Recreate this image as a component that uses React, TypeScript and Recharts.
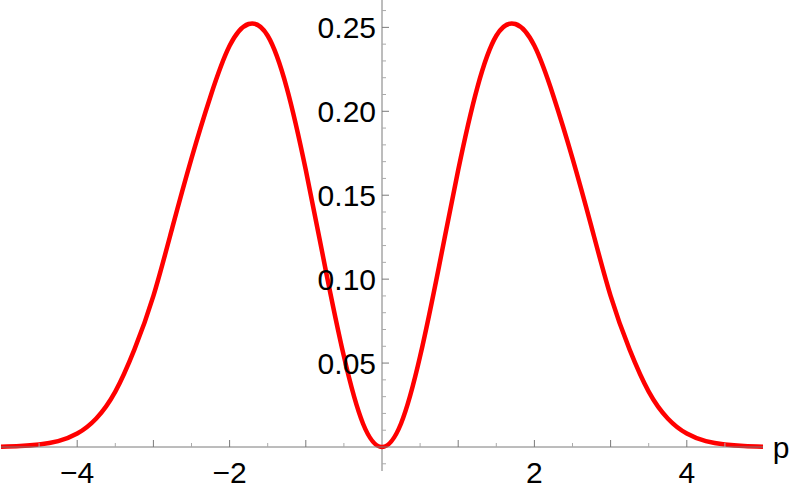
import React from "react";
import { LineChart, Line, XAxis, YAxis, ReferenceLine } from "recharts";

// momentum values p
const pValues = [
  -5, -4.75, -4.5, -4.25, -4, -3.75, -3.5, -3.25, -3, -2.75, -2.5, -2.25, -2,
  -1.75, -1.5, -1.25, -1, -0.75, -0.5, -0.25, 0, 0.25, 0.5, 0.75, 1, 1.25, 1.5,
  1.75, 2, 2.25, 2.5, 2.75, 3, 3.25, 3.5, 3.75, 4, 4.25, 4.5, 4.75, 5,
];

// curve height
const density = [
  0.0002, 0.0006, 0.0015, 0.0035, 0.008, 0.017, 0.033, 0.058, 0.09, 0.131,
  0.172, 0.209, 0.239, 0.252, 0.245, 0.214, 0.165, 0.108, 0.054, 0.014, 0,
  0.014, 0.054, 0.108, 0.165, 0.214, 0.245, 0.252, 0.239, 0.209, 0.172, 0.131,
  0.09, 0.058, 0.033, 0.017, 0.008, 0.0035, 0.0015, 0.0006, 0.0002,
];

const xTicks = [-4.5, -4, -3.5, -3, -2.5, -2, -1.5, -1, -0.5, 0.5, 1, 1.5, 2, 2.5, 3, 3.5, 4, 4.5];
const xLabels = [-4, -2, 2, 4];
const yTicks = [
  -0.01, 0.01, 0.02, 0.03, 0.04, 0.05, 0.06, 0.07, 0.08, 0.09, 0.1, 0.11, 0.12,
  0.13, 0.14, 0.15, 0.16, 0.17, 0.18, 0.19, 0.2, 0.21, 0.22, 0.23, 0.24, 0.25,
  0.26,
];
const yLabels = [0.05, 0.1, 0.15, 0.2, 0.25];

const data = pValues.map((p, i) => ({ p, value: density[i] }));

const W = 793;
const H = 492;
const RIGHT = 30;
const Y_AXIS_W = 1;
const X_MIN = -5;
const X_MAX = 5;
const Y_MIN = 0;
const Y_MAX = 0.2663;
const AXIS_GRAY = "#7a7a7a";
const MINOR_GRAY = "#aaaaaa";
const FONT = "'Liberation Sans', Arial, sans-serif";
const FONT_SIZE = 30;
// distance from the left of the plot to p = 0
const HALF_PLOT = ((0 - X_MIN) / (X_MAX - X_MIN)) * (W - Y_AXIS_W - RIGHT);

const near = (a: number, list: number[]) => list.some((v) => Math.abs(v - a) < 1e-6);

const XTick = ({ x, y, payload }: any) => {
  const v = payload.value;
  const major = Number.isInteger(v);
  const label = near(v, xLabels);
  return (
    <g>
      <line
        x1={x}
        x2={x}
        y1={y}
        y2={y - (major ? 7 : 4)}
        stroke={major ? AXIS_GRAY : MINOR_GRAY}
        strokeWidth={1}
      />
      {label && (
        <text
          x={x}
          y={y + 25}
          textAnchor="middle"
          dominantBaseline="central"
          fontSize={FONT_SIZE}
          fill="#000"
          fontFamily={FONT}
        >
          {v < 0 ? `\u2212${Math.abs(v)}` : v}
        </text>
      )}
    </g>
  );
};

const YTick = ({ x, y, payload }: any) => {
  const v = payload.value;
  const label = near(v, yLabels);
  const cx = x + HALF_PLOT;
  return (
    <g>
      <line
        x1={cx}
        x2={cx + (label ? 7 : 4)}
        y1={y}
        y2={y}
        stroke={label ? AXIS_GRAY : MINOR_GRAY}
        strokeWidth={1}
      />
      {label && (
        <text
          x={cx - 6}
          y={y}
          textAnchor="end"
          dominantBaseline="central"
          fontSize={FONT_SIZE}
          fill="#000"
          fontFamily={FONT}
        >
          {v.toFixed(2)}
        </text>
      )}
    </g>
  );
};

const PLabel = ({ viewBox }: any) => (
  <text
    x={viewBox.x + viewBox.width + 18}
    y={viewBox.y + 11}
    textAnchor="middle"
    fontSize={FONT_SIZE}
    fill="#000"
    fontFamily={FONT}
  >
    p
  </text>
);

export default function App() {
  return (
    <div style={{ position: "absolute", left: 0, top: 0, width: W, height: H, background: "#fff" }}>
      <LineChart width={W} height={H} data={data} margin={{ top: 0, right: RIGHT, bottom: 0, left: 0 }}>
        <XAxis
          dataKey="p"
          type="number"
          domain={[X_MIN, X_MAX]}
          ticks={xTicks}
          interval={0}
          height={45}
          tickSize={0}
          tickMargin={0}
          tick={<XTick />}
          axisLine={{ stroke: AXIS_GRAY, strokeWidth: 1 }}
          label={<PLabel />}
        />
        <YAxis
          type="number"
          domain={[Y_MIN, Y_MAX]}
          ticks={yTicks}
          interval={0}
          width={Y_AXIS_W}
          tickSize={0}
          tickMargin={0}
          axisLine={false}
          tick={<YTick />}
        />
        <ReferenceLine
          segment={[
            { x: 0, y: -0.0143 },
            { x: 0, y: Y_MAX },
          ]}
          stroke={AXIS_GRAY}
          strokeWidth={1}
          ifOverflow="visible"
        />
        <Line
          type="natural"
          dataKey="value"
          stroke="#ff0000"
          strokeWidth={4.5}
          dot={false}
          isAnimationActive={false}
        />
      </LineChart>
    </div>
  );
}
